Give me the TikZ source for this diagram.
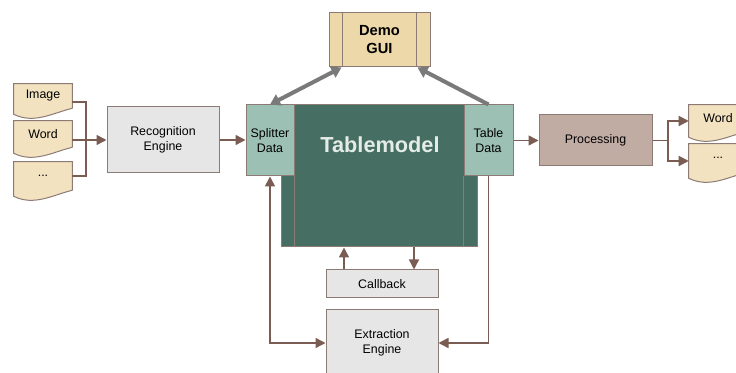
\documentclass[tikz,border=0pt]{standalone}
\usepackage{fontspec}
\setmainfont{Liberation Sans}
\usetikzlibrary{arrows.meta}

\definecolor{linkbrown}{HTML}{7B5C52}
\definecolor{boxline}{HTML}{8C7B74}
\definecolor{boxgray}{HTML}{E6E6E6}
\definecolor{datateal}{HTML}{9DC0B5}
\definecolor{modelgreen}{HTML}{476E62}
\definecolor{modeltext}{HTML}{E4ECE8}
\definecolor{procrose}{HTML}{C1ACA4}
\definecolor{guiwheat}{HTML}{EDD8AA}
\definecolor{docfill}{HTML}{F2E2C0}
\definecolor{guigray}{HTML}{7A7A7A}

\tikzset{
  box/.style={draw=boxline, line width=0.75pt, fill=boxgray, align=center,
    inner sep=0pt, font=\fontsize{9.3}{11}\selectfont},
  databox/.style={box, fill=datateal},
  docbox/.style={fill=docfill, align=center, inner sep=0pt,
    minimum width=43.5pt, font=\fontsize{9.3}{11}\selectfont},
  docline/.style={draw=boxline, line width=0.75pt},
  link/.style={draw=linkbrown, line width=1.1pt,
    -{Triangle[length=7.5pt,width=7.5pt]}},
  twolink/.style={draw=linkbrown, line width=1.1pt,
    {Triangle[length=7.5pt,width=7.5pt]}-{Triangle[length=7.5pt,width=7.5pt]}},
  guilink/.style={draw=guigray, line width=3pt, -{Triangle[length=7.5pt,width=9pt]}},
  guitwolink/.style={draw=guigray, line width=3pt,
    {Triangle[length=7.5pt,width=9pt]}-{Triangle[length=7.5pt,width=9pt]}}
}

\begin{document}
\begin{tikzpicture}[x=0.75pt,y=-0.75pt]
\useasboundingbox (0,0) rectangle (736,373);

% input documents
\node[docbox, minimum height=18pt] (img) at (43,96) {Image};
\node[docbox, minimum height=19.5pt] (wordin) at (43,134) {Word};
\node[docbox, minimum height=21pt] (dotsin) at (43,176) {...};

% output documents
\node[docbox, minimum height=19.5pt] (wordout) at (718,118) {Word};
\node[docbox, minimum height=21pt] (dotsout) at (718,158) {...};

\foreach \d in {img,wordin,dotsin,wordout,dotsout} {
  \fill[docfill] ([yshift=1pt]\d.south west) -- (\d.south west) -- ++(0,6)
    .. controls +(20,10) and +(-20,5) .. (\d.south east) -- ([yshift=1pt]\d.south east) -- cycle;
  \draw[docline] (\d.south east) -- (\d.north east) -- (\d.north west) -- (\d.south west)
    -- ++(0,6) .. controls +(20,10) and +(-20,5) .. (\d.south east);
}

\node[box, minimum width=84pt, minimum height=49.5pt] (rec) at (163,140) {Recognition\\Engine};

% table model with its two data boxes
\node[box, fill=modelgreen, minimum width=147pt, minimum height=106.5pt] (tm) at (379,176) {};
\node[text=modeltext, font=\fontsize{16.3}{18}\selectfont\bfseries] (tmtitle) at (380,145) {Tablemodel};
\node[databox, minimum width=36pt, minimum height=53.25pt] (spl) at (270,140.5) {Splitter\\Data};
\node[databox, minimum width=36.75pt, minimum height=53.25pt] (tab) at (488.5,140.5) {Table\\Data};
\draw[boxline, line width=0.75pt] (spl.south east) -- (spl.south east |- tm.south);
\draw[boxline, line width=0.75pt] (tab.south west) -- (tab.south west |- tm.south);

\node[box, fill=procrose, minimum width=84.75pt, minimum height=38.25pt] (proc) at (595.5,140.5) {Processing};

\node[box, fill=guiwheat, minimum width=75.75pt, minimum height=40.5pt,
  font=\fontsize{11}{13.5}\selectfont\bfseries] (gui) at (379.5,40) {Demo\\GUI};
\draw[boxline, line width=0.75pt] ([xshift=10.5pt]gui.north west) -- ([xshift=10.5pt]gui.south west);
\draw[boxline, line width=0.75pt] ([xshift=-10.5pt]gui.north east) -- ([xshift=-10.5pt]gui.south east);

\node[box, minimum width=84pt, minimum height=21pt] (cb) at (382,284) {Callback};
\node[box, minimum width=84pt, minimum height=49.5pt] (ex) at (382,343) {Extraction\\Engine};

% input side
\coordinate (jn) at (86,140);
\draw[linkbrown, line width=1.1pt] ([yshift=-4.5pt]img.east) -| (jn);
\draw[linkbrown, line width=1.1pt] ([yshift=-4.5pt]wordin.east) -- (jn);
\draw[linkbrown, line width=1.1pt] (dotsin.east) -| (jn);
\draw[link] (jn) -- (rec.west);
\draw[link] (rec.east) -- (rec.east -| spl.west);

% output side
\draw[link] (tab.east) -- (tab.east -| proc.west);
\coordinate (pj) at (668,140.5);
\draw[linkbrown, line width=1.1pt] (proc.east) -- (pj);
\draw[link] (pj) |- ([yshift=-2.25pt]wordout.west);
\draw[link] (pj) |- ([yshift=-2.25pt]dotsout.west);

% gui
\draw[guitwolink] (spl.north) -- ([xshift=9.75pt]gui.south west);
\draw[guilink] (tab.north) -- ([xshift=-9.75pt]gui.south east);

% callback
\coordinate (cbup) at ([xshift=-28.5pt]cb.north);
\coordinate (cbdn) at ([xshift=24pt]cb.north);
\draw[link] (cbup) -- (cbup |- tm.south);
\draw[link] (cbdn |- tm.south) -- (cbdn);

% extraction
\draw[twolink] (ex.west) -| (spl.south);
\draw[link] (tab.south) |- (ex.east);
\end{tikzpicture}
\end{document}
